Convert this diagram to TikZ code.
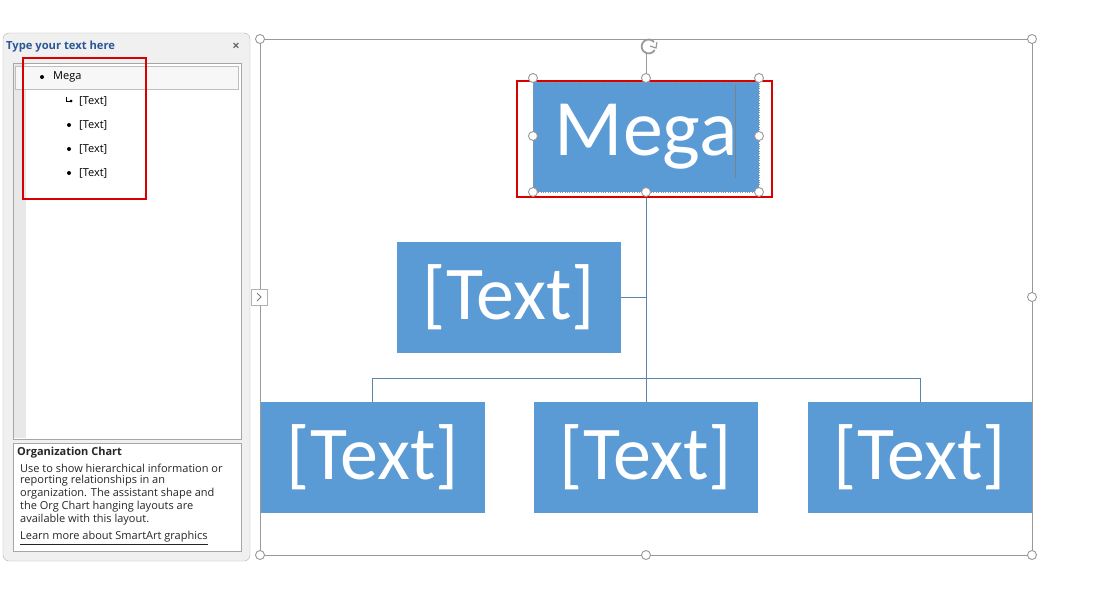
\documentclass[tikz,border=0pt]{standalone}
\usepackage{fontspec}
\setmainfont{Carlito}
\newfontfamily\ui{Open Sans}
\begin{document}
\begin{tikzpicture}[x=1pt,y=-1pt,
  box/.style={fill=boxblue,text=white,inner sep=0pt,font=\fontsize{76}{76}\selectfont},
  conn/.style={draw=linec,line width=1pt},
  hdl/.style={circle,draw=gray!80,fill=white,line width=0.9pt,minimum size=9pt,inner sep=0pt},
  ptxt/.style={anchor=west,font=\ui\fontsize{11}{12}\selectfont,inner sep=0pt},
  dtxt/.style={anchor=west,font=\ui\fontsize{11}{12}\selectfont,inner sep=0pt,text=black!85}]
\definecolor{boxblue}{HTML}{5B9BD5}
\definecolor{linec}{HTML}{5A85A8}
\definecolor{titleblue}{HTML}{2B579A}
\useasboundingbox (0,0) rectangle (1108,610);
\fill[white] (0,0) rectangle (1108,610);
% panel
\draw[gray!60,fill=black!6,rounded corners=6pt] (3,33) rectangle (250,561);
\node[ptxt,font=\ui\bfseries\fontsize{11.2}{12}\selectfont,text=titleblue] (title) at (6,47) {Type your text here};
\node[font=\ui\bfseries\fontsize{13}{13}\selectfont,text=black!60] (close) at (236,47) {×};
\draw[gray!70,fill=white] (13,63) rectangle (241,439);
\fill[black!9] (14,64) rectangle (26,438);
\draw[gray!50,fill=black!3] (15,66) rectangle (238,89);
\fill (42,77) circle (2pt);
\node[ptxt] (t0) at (53,77) {Mega};
\draw[line width=0.6pt] (66,97)--(66,101)--(71,101);
\fill (71,101) circle (1.5pt);
\node[ptxt] (t1) at (79,101) {[Text]};
\fill (69,125) circle (2pt);
\node[ptxt] (t2) at (79,125) {[Text]};
\fill (69,149) circle (2pt);
\node[ptxt] (t3) at (79,149) {[Text]};
\fill (69,173) circle (2pt);
\node[ptxt] (t4) at (79,173) {[Text]};
\draw[red!85!black,line width=2.2pt] (23,58) rectangle (146,199);
\draw[gray!70,fill=white] (13,443) rectangle (241,551);
\node[dtxt,font=\ui\bfseries\fontsize{11}{12}\selectfont] (d0) at (17,453) {Organization Chart};
\node[dtxt] (d1) at (20,468) {Use to show hierarchical information or};
\node[dtxt] (d2) at (20,481) {reporting relationships in an};
\node[dtxt] (d3) at (20,494) {organization. The assistant shape and};
\node[dtxt] (d4) at (20,507) {the Org Chart hanging layouts are};
\node[dtxt] (d5) at (20,520) {available with this layout.};
\node[dtxt] (d6) at (20,538) {\underline{Learn more about SmartArt graphics}};
% frame
\draw[gray!80,line width=0.8pt] (260,39) rectangle (1032,555);
% connectors
\draw[conn] (646,192)--(646,402);
\draw[conn] (372,402)--(372,378)--(920,378)--(920,402);
\draw[conn] (621,297)--(646,297);
% boxes
\node[box,minimum width=226pt,minimum height=110pt,font=\fontsize{80}{80}\selectfont] (mega) at (646,137) {Mega};
\draw[black!40,dotted] (533,82) rectangle (759,192);
\draw[gray,line width=0.8pt] (735,85)--(735,178);
\node[box,minimum width=224pt,minimum height=111pt] (asst) at (509,297.5) {[Text]};
\node[box,minimum width=224pt,minimum height=111pt] (b1) at (373,457.5) {[Text]};
\node[box,minimum width=224pt,minimum height=111pt] (b2) at (646,457.5) {[Text]};
\node[box,minimum width=224pt,minimum height=111pt] (b3) at (920,457.5) {[Text]};
\draw[red!85!black,line width=2.2pt] (517,81) rectangle (772,197);
% handles
\draw[gray!80,line width=0.8pt] (646,54)--(646,78);
\draw[gray!80,line width=1.8pt] (654,42) arc (40:330:7pt);
\draw[gray!80,line width=1.2pt] (650,46)--(656,48)--(657,42);
\foreach \p in {(260,39),(1032,39),(260,297),(1032,297),(260,555),(646,555),(1032,555),
  (533,78),(646,78),(759,78),(533,136),(759,136),(533,192),(646,192),(759,192)}
  \node[hdl] at \p {};
% tab
\draw[gray!60,fill=white] (251,289) rectangle (267,305);
\draw[gray,line width=0.8pt] (257,293)--(261,297)--(257,301);
\end{tikzpicture}
\end{document}
